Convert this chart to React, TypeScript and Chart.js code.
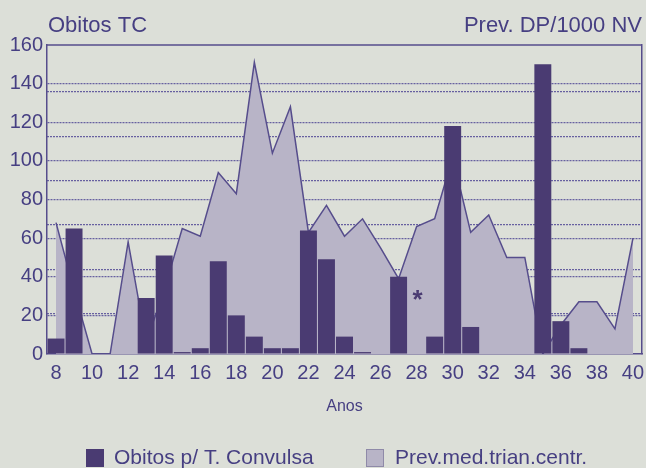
import { useEffect, useRef } from 'react';
import { Chart, registerables } from 'chart.js';

Chart.register(...registerables);

// ---- data ----
const years = ['8', '9', '10', '11', '12', '13', '14', '15', '16', '17', '18', '19', '20', '21', '22', '23', '24', '25', '26', '27', '28', '29', '30', '31', '32', '33', '34', '35', '36', '37', '38', '39', '40'];
const obitos = [8, 65, null, null, null, 29, 51, 1, 3, 48, 20, 9, 3, 3, 64, 49, 9, 1, null, 40, null, 9, 118, 14, null, null, null, 150, 17, 3, null, null, null];
const prevalencia = [68, 33, 0, 0, 58, 6, 33, 65, 61, 94, 83, 151, 104, 128, 63, 77, 61, 70, 55, 39, 66, 70, 102, 63, 72, 50, 50, 0, 15, 27, 27, 13, 60];
const leftTicks = [0, 20, 40, 60, 80, 100, 120, 140, 160];
const rightGridTicks = [10, 20, 30, 40, 50, 60];
const markerYear = '28';
const markerValue = 32;
const legendLabels = ['Obitos p/ T. Convulsa', 'Prev.med.trian.centr.'];
const leftTitle = 'Obitos TC';
const rightTitle = 'Prev. DP/1000 NV';
const xTitle = 'Anos';

// ---- styles ----
const FONT = '"Liberation Sans", Arial, Helvetica, sans-serif';
const BG = '#dcdfd8';
const TEXT = '#463f82';
const BAR = '#4a3b72';
const AREA = '#b8b4c7';
const LINE = '#564d8c';
const GRID = '#6760a0';
const AXIS = '#564d8c';

export default function App() {
  const ref = useRef<HTMLCanvasElement | null>(null);

  useEffect(() => {
    const canvas = ref.current;
    if (!canvas) return;
    Chart.defaults.font.family = FONT;

    const decor = {
      id: 'decor',
      beforeDraw(chart: any) {
        const { ctx, width, height } = chart;
        ctx.save();
        ctx.fillStyle = BG;
        ctx.fillRect(0, 0, width, height);
        ctx.restore();
      },
      afterDatasetsDraw(chart: any) {
        const { ctx, chartArea } = chart;
        ctx.save();
        ctx.strokeStyle = AXIS;
        ctx.lineWidth = 1.5;
        ctx.beginPath();
        ctx.moveTo(chartArea.left, chartArea.top);
        ctx.lineTo(chartArea.right, chartArea.top);
        ctx.stroke();
        // asterisk marker
        const xs = chart.scales.x;
        const ys = chart.scales.y;
        const px = xs.getPixelForValue(years.indexOf(markerYear));
        const py = ys.getPixelForValue(markerValue);
        ctx.fillStyle = BAR;
        ctx.font = `bold 26px ${FONT}`;
        ctx.textAlign = 'center';
        ctx.textBaseline = 'alphabetic';
        ctx.fillText('*', px + 1, py + 16);
        ctx.restore();
      },
      afterDraw(chart: any) {
        const { ctx, chartArea } = chart;
        ctx.save();
        ctx.fillStyle = TEXT;
        ctx.font = `22px ${FONT}`;
        ctx.textBaseline = 'alphabetic';
        ctx.textAlign = 'left';
        ctx.fillText(leftTitle, chartArea.left + 1, 32);
        ctx.textAlign = 'right';
        ctx.fillText(rightTitle, chartArea.right, 32);

        // legend
        ctx.font = `21px ${FONT}`;
        ctx.textAlign = 'left';
        ctx.fillStyle = BAR;
        ctx.fillRect(86, 449, 18, 18);
        ctx.fillStyle = TEXT;
        ctx.fillText(legendLabels[0], 114, 464);
        ctx.fillStyle = AREA;
        ctx.fillRect(366, 449, 18, 18);
        ctx.strokeStyle = '#8f8aa8';
        ctx.lineWidth = 1;
        ctx.strokeRect(366.5, 449.5, 17, 17);
        ctx.fillStyle = TEXT;
        ctx.fillText(legendLabels[1], 395, 464);
        ctx.restore();
      },
    };

    const chart = new Chart(canvas, {
      type: 'bar',
      data: {
        labels: years,
        datasets: [
          {
            type: 'bar',
            label: legendLabels[0],
            data: obitos as any,
            backgroundColor: BAR,
            borderWidth: 0,
            barPercentage: 0.94,
            categoryPercentage: 1,
            order: 1,
            yAxisID: 'y',
          },
          {
            type: 'line',
            label: legendLabels[1],
            data: prevalencia,
            fill: 'origin',
            backgroundColor: AREA,
            borderColor: LINE,
            borderWidth: 1.5,
            pointRadius: 0,
            tension: 0,
            order: 2,
            yAxisID: 'y',
          },
        ],
      },
      options: {
        responsive: false,
        animation: false,
        events: [],
        layout: { padding: { top: 45, left: 0, right: 0, bottom: 0 } },
        plugins: { legend: { display: false }, tooltip: { enabled: false } },
        scales: {
          x: {
            type: 'category',
            offset: true,
            grid: { display: false, drawTicks: false },
            border: { display: true, color: AXIS, width: 1.5 },
            ticks: {
              autoSkip: false,
              maxRotation: 0,
              padding: 7,
              color: TEXT,
              font: { size: 20 },
              callback: (_v: any, i: number) => (i % 2 === 0 ? years[i] : ''),
            },
            title: {
              display: true,
              text: xTitle,
              color: TEXT,
              font: { size: 16 },
              padding: { top: 0, bottom: 52 },
            },
            afterFit: (s: any) => {
              s.height = 114;
              s.paddingLeft = 0;
              s.paddingRight = 0;
            },
          },
          y: {
            position: 'left',
            min: 0,
            max: 160,
            afterBuildTicks: (s: any) => {
              s.ticks = leftTicks.map((v) => ({ value: v }));
            },
            grid: {
              color: (ctx: any) =>
                ctx.tick && (ctx.tick.value === 0 || ctx.tick.value === 160) ? 'rgba(0,0,0,0)' : GRID,
              lineWidth: 1.2,
              drawTicks: false,
            },
            border: { display: true, color: AXIS, width: 1.5, dash: [2, 1] },
            ticks: { color: TEXT, font: { size: 20 }, padding: 4 },
            afterFit: (s: any) => {
              s.width = 47;
              s.paddingTop = 0;
              s.paddingBottom = 0;
            },
          },
          y1: {
            position: 'right',
            min: 0.86,
            max: 70.6,
            afterBuildTicks: (s: any) => {
              s.ticks = rightGridTicks.map((v) => ({ value: v }));
            },
            grid: { color: GRID, lineWidth: 1.2, drawTicks: false },
            border: { display: true, color: AXIS, width: 1.5, dash: [2, 1] },
            ticks: { display: false },
            afterFit: (s: any) => {
              s.width = 4;
              s.paddingTop = 0;
              s.paddingBottom = 0;
            },
          },
        },
      } as any,
      plugins: [decor],
    });

    return () => chart.destroy();
  }, []);

  return (
    <div style={{ position: 'fixed', left: 0, top: 0, width: 646, height: 468, background: BG }}>
      <canvas ref={ref} width={646} height={468} style={{ display: 'block', width: 646, height: 468 }} />
    </div>
  );
}
